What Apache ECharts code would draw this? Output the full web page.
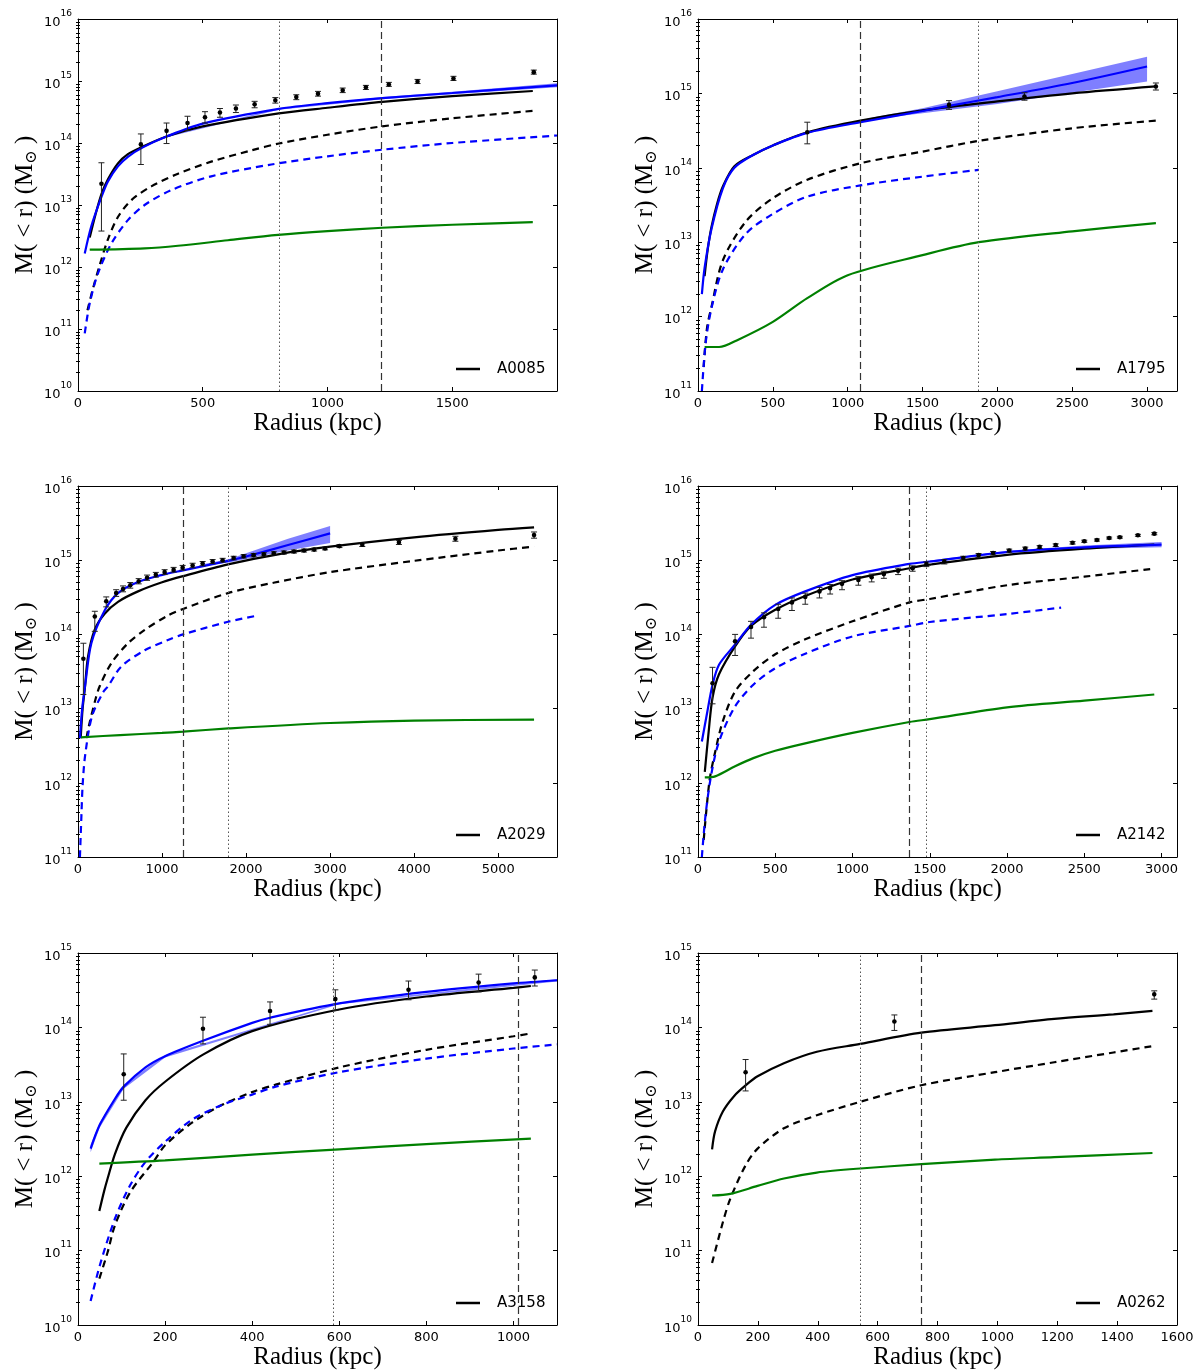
<!DOCTYPE html>
<html><head><meta charset="utf-8">
<script src="https://cdn.jsdelivr.net/npm/echarts@6/dist/echarts.min.js"></script>
<style>html,body{margin:0;padding:0;background:#fff}#c{width:1200px;height:1372px}</style>
</head><body><div id="c"></div>
<script>
// ---------------- DATA ----------------
const clusterNames = ['A0085', 'A1795', 'A2029', 'A2142', 'A3158', 'A0262'];
const xMaxes = [1920, 3200, 5700, 3100, 1100, 1600];
const yMins = [1e10, 1e11, 1e11, 1e11, 1e10, 1e10];
const yMaxes = [1e16, 1e16, 1e16, 1e16, 1e15, 1e15];
const xTickValues = [
  [0, 500, 1000, 1500],
  [0, 500, 1000, 1500, 2000, 2500, 3000],
  [0, 1000, 2000, 3000, 4000, 5000],
  [0, 500, 1000, 1500, 2000, 2500, 3000],
  [0, 200, 400, 600, 800, 1000],
  [0, 200, 400, 600, 800, 1000, 1200, 1400, 1600]
];
const yTickValuesTall = [1e10, 1e11, 1e12, 1e13, 1e14, 1e15, 1e16];
const yTickValuesShort = [1e10, 1e11, 1e12, 1e13, 1e14, 1e15];

// A0085
const A0085_total = [[47,3e12],[70,7e12],[94,1.5e13],[120,2.6e13],[160,4.7e13],[200,6.6e13],[253,8.5e13],[355,1.27e14],[500,1.85e14],[805,3.0e14],[1000,3.7e14],[1220,4.6e14],[1500,5.7e14],[1823,6.9e14]];
const A0085_fit = [[27,1.65e12],[53,4.5e12],[94,1.35e13],[120,2.4e13],[160,4.2e13],[200,6e13],[260,8.5e13],[355,1.27e14],[500,2.05e14],[805,3.55e14],[1000,4.4e14],[1220,5.3e14],[1500,6.4e14],[1920,8.5e14]];
const A0085_fitBand = [[355,1.24e14,1.3e14],[805,3.45e14,3.65e14],[1220,5.1e14,5.5e14],[1500,6.1e14,6.7e14],[1920,7.9e14,9.2e14]];
const A0085_gasTotal = [[38,2e11],[60,4.5e11],[87,1.07e12],[120,2.8e12],[160,6.4e12],[214,1.2e13],[294,2e13],[401,3.2e13],[534,5e13],[695,7.6e13],[805,9.8e13],[1000,1.36e14],[1217,1.85e14],[1500,2.5e14],[1823,3.3e14]];
const A0085_gasFit = [[27,8.5e10],[47,2.6e11],[80,7.9e11],[134,2.4e12],[200,5.7e12],[267,1e13],[374,1.74e13],[534,2.9e13],[775,4.5e13],[1000,6.1e13],[1220,7.8e13],[1500,1e14],[1920,1.32e14]];
const A0085_stars = [[47,1.9e12],[267,2e12],[401,2.2e12],[601,2.7e12],[802,3.3e12],[1000,3.8e12],[1220,4.3e12],[1500,4.8e12],[1823,5.3e12]];
const A0085_points = [[94,2.2e13,3.8e12,4.8e13],[252,9.5e13,4.5e13,1.4e14],[355,1.57e14,9.8e13,2.1e14],[439,2.1e14,1.6e14,2.7e14],[509,2.6e14,2.1e14,3.2e14],[569,3.1e14,2.6e14,3.6e14],[633,3.6e14,3.1e14,4.1e14],[708,4.2e14,3.7e14,4.7e14],[791,4.9e14,4.4e14,5.4e14],[875,5.5e14,5.0e14,6.0e14],[962,6.2e14,5.7e14,6.8e14],[1061,7.1e14,6.5e14,7.7e14],[1154,7.9e14,7.3e14,8.5e14],[1246,8.8e14,8.2e14,9.5e14],[1361,9.8e14,9.1e14,1.06e15],[1505,1.1e15,1.02e15,1.19e15],[1827,1.39e15,1.29e15,1.5e15]];
const A0085_radii = [805, 1217]; // dotted, dashed

// A1795
const A1795_total = [[44,3.5e12],[65,8e12],[90,1.6e13],[128,3.3e13],[166,5.6e13],[243,1.05e14],[371,1.5e14],[500,2e14],[730,3e14],[1085,4.3e14],[1500,5.9e14],[2000,7.8e14],[2500,1e15],[3059,1.24e15]];
const A1795_fit = [[26,2e12],[44,4.5e12],[90,1.5e13],[166,5.3e13],[243,1e14],[371,1.5e14],[500,2e14],[730,2.95e14],[1085,4.1e14],[1500,5.8e14],[1677,6.8e14],[2000,8.9e14],[2500,1.38e15],[3000,2.3e15]];
const A1795_fitBand = [[1000,3.8e14,4e14],[1200,4.55e14,4.9e14],[1500,5.4e14,6.3e14],[2000,7.2e14,1.07e15],[2500,1.02e15,1.82e15],[3000,1.45e15,3.1e15]];
const A1795_gasTotal = [[38,2.1e11],[60,7e11],[90,1.35e12],[166,5.7e12],[320,1.9e13],[500,3.9e13],[730,6.9e13],[1085,1.15e14],[1500,1.65e14],[1876,2.3e14],[2500,3.4e14],[3059,4.3e14]];
const A1795_gasFit = [[26,1e11],[51,4.4e11],[90,1.3e12],[166,4.3e12],[320,1.3e13],[500,2.4e13],[730,4.1e13],[1085,5.8e13],[1500,7.6e13],[1876,9.4e13]];
const A1795_stars = [[44,3.9e11],[141,3.9e11],[269,4.9e11],[500,8.5e11],[730,1.77e12],[1000,3.6e12],[1500,6.7e12],[1876,1e13],[2500,1.4e13],[3059,1.8e13]];
const A1795_points = [[730,3e14,2.1e14,4.1e14],[1677,7e14,6.1e14,8e14],[2181,9.1e14,8.1e14,1.02e15],[3059,1.24e15,1.11e15,1.38e15]];
const A1795_radii = [1872, 1083];

// A2029
const A2029_total = [[32,4e12],[55,1e13],[80,1.8e13],[119,5e13],[198,1.15e14],[317,1.9e14],[476,2.75e14],[714,3.8e14],[992,5.0e14],[1250,6.1e14],[1785,8.8e14],[2380,1.2e15],[3000,1.52e15],[4000,2.03e15],[5000,2.56e15],[5427,2.77e15]];
const A2029_fit = [[23,4e12],[50,1e13],[86,2.1e13],[159,7.6e13],[317,2.1e14],[476,3.6e14],[714,5.1e14],[992,6.3e14],[1250,7.3e14],[1785,9.8e14],[2000,1.12e15],[2500,1.6e15],[3000,2.3e15]];
const A2029_fitBand = [[1500,8.4e14,8.9e14],[1800,9.3e14,1.04e15],[2000,1.04e15,1.24e15],[2500,1.35e15,1.95e15],[3000,1.7e15,2.9e15]];
const A2029_gasTotal = [[100,4e12],[132,6e12],[213,1.4e13],[258,2e13],[397,4.1e13],[595,7.6e13],[794,1.15e14],[1071,1.8e14],[1250,2.2e14],[1785,3.6e14],[2340,5.0e14],[3000,6.9e14],[4000,9.8e14],[5000,1.35e15],[5427,1.53e15]];
const A2029_gasFit = [[23,1e11],[41,3.7e11],[55,9.3e11],[86,2.4e12],[168,8e12],[304,1.7e13],[357,2e13],[516,3.7e13],[794,6.1e13],[1071,8.4e13],[1250,1e14],[1785,1.48e14],[2142,1.8e14]];
const A2029_stars = [[32,4.1e12],[500,4.4e12],[1000,4.7e12],[1250,4.9e12],[1790,5.4e12],[3000,6.4e12],[4000,6.9e12],[5427,7.1e12]];
const A2029_points = [[64,4.7e13,1.55e13,7.6e13],[200,1.74e14,1.1e14,2.05e14],[336,2.8e14,2.35e14,3.2e14],[454,3.6e14,3.25e14,4.0e14],[536,4.1e14,3.75e14,4.5e14],[622,4.6e14,4.2e14,5.0e14],[722,5.2e14,4.8e14,5.65e14],[822,5.8e14,5.35e14,6.3e14],[926,6.35e14,5.9e14,6.85e14],[1031,6.9e14,6.4e14,7.45e14],[1138,7.4e14,6.9e14,8.0e14],[1245,7.9e14,7.35e14,8.5e14],[1364,8.5e14,7.9e14,9.1e14],[1483,9.0e14,8.4e14,9.6e14],[1602,9.6e14,9.0e14,1.02e15],[1721,1.0e15,9.4e14,1.06e15],[1852,1.07e15,1.01e15,1.13e15],[1971,1.13e15,1.07e15,1.19e15],[2090,1.17e15,1.11e15,1.23e15],[2212,1.2e15,1.14e15,1.26e15],[2330,1.24e15,1.18e15,1.3e15],[2450,1.27e15,1.21e15,1.33e15],[2570,1.31e15,1.25e15,1.37e15],[2690,1.35e15,1.29e15,1.41e15],[2810,1.39e15,1.33e15,1.45e15],[2940,1.44e15,1.38e15,1.5e15],[3111,1.55e15,1.48e15,1.62e15],[3383,1.62e15,1.53e15,1.71e15],[3819,1.74e15,1.63e15,1.85e15],[4491,1.95e15,1.8e15,2.1e15],[5427,2.18e15,1.98e15,2.4e15]];
const A2029_radii = [1790, 1250];

// A2142
const A2142_total = [[44,1.4e12],[69,4.9e12],[94,1.4e13],[136,2.9e13],[240,6.9e13],[343,1.3e14],[500,2.15e14],[694,3.3e14],[1000,5.5e14],[1369,7.8e14],[1500,8.7e14],[2000,1.18e15],[2500,1.43e15],[2953,1.62e15]];
const A2142_fit = [[25,3.6e12],[60,9e12],[94,2.1e13],[136,3.9e13],[240,7.3e13],[343,1.35e14],[500,2.5e14],[694,3.8e14],[1000,6.3e14],[1369,8.9e14],[1500,9.6e14],[2000,1.29e15],[2500,1.49e15],[3000,1.62e15]];
const A2142_fitBand = [[1500,9.3e14,9.9e14],[2000,1.24e15,1.34e15],[2500,1.42e15,1.58e15],[3000,1.5e15,1.76e15]];
const A2142_gasTotal = [[37,1.7e11],[74,1.05e12],[111,2.6e12],[160,6.7e12],[240,1.7e13],[358,3.2e13],[500,5.4e13],[694,8.6e13],[1000,1.5e14],[1369,2.7e14],[1500,3.0e14],[2000,4.6e14],[2500,6.0e14],[2953,7.7e14]];
const A2142_gasFit = [[25,1e11],[49,3.7e11],[86,1.3e12],[136,3.6e12],[240,1.07e13],[358,2.1e13],[500,3.5e13],[694,5.5e13],[1000,9.4e13],[1369,1.3e14],[1500,1.47e14],[2000,1.88e14],[2350,2.3e14]];
const A2142_stars = [[44,1.18e12],[111,1.22e12],[240,1.67e12],[358,2.15e12],[500,2.7e12],[694,3.4e12],[1000,4.7e12],[1369,6.6e12],[1500,7.2e12],[2000,1.04e13],[2500,1.28e13],[2953,1.55e13]];
const A2142_points = [[94,2.2e13,1.16e13,3.6e13],[240,8.1e13,5.2e13,1.0e14],[343,1.26e14,8.9e13,1.5e14],[427,1.7e14,1.25e14,1.95e14],[519,2.2e14,1.65e14,2.55e14],[608,2.7e14,2.1e14,3.1e14],[694,3.2e14,2.55e14,3.6e14],[786,3.8e14,3.1e14,4.3e14],[855,4.2e14,3.5e14,4.7e14],[932,4.8e14,4.0e14,5.3e14],[1038,5.4e14,4.6e14,6.0e14],[1124,5.9e14,5.1e14,6.5e14],[1203,6.5e14,5.7e14,7.1e14],[1295,7.2e14,6.4e14,7.8e14],[1389,7.8e14,7.1e14,8.4e14],[1478,8.9e14,8.2e14,9.5e14],[1594,9.6e14,8.9e14,1.02e15],[1717,1.07e15,1.0e15,1.13e15],[1816,1.17e15,1.09e15,1.23e15],[1910,1.25e15,1.18e15,1.31e15],[2014,1.35e15,1.28e15,1.41e15],[2118,1.44e15,1.37e15,1.5e15],[2211,1.51e15,1.44e15,1.57e15],[2315,1.6e15,1.53e15,1.66e15],[2424,1.72e15,1.65e15,1.78e15],[2500,1.8e15,1.74e15,1.86e15],[2582,1.87e15,1.81e15,1.93e15],[2661,1.99e15,1.93e15,2.05e15],[2730,2.04e15,1.98e15,2.1e15],[2847,2.17e15,2.1e15,2.23e15],[2953,2.28e15,2.2e15,2.35e15]];
const A2142_radii = [1478, 1369];

// A3158
const A3158_total = [[49,3.4e11],[60,6.3e11],[68,9.3e11],[85,2e12],[111,4.5e12],[155,1.05e13],[200,1.86e13],[287,4.3e13],[400,8.9e13],[600,1.74e14],[800,2.6e14],[1000,3.4e14],[1040,3.6e14]];
const A3158_fit = [[29,2.35e12],[50,4.9e12],[85,1.1e13],[105,1.6e13],[155,2.9e13],[200,4.1e13],[287,6.6e13],[400,1.15e14],[441,1.35e14],[600,2.1e14],[800,3e14],[1000,3.9e14],[1100,4.3e14]];
const A3158_fitBand = [[29,2.1e12,2.65e12],[50,4.5e12,5.3e12],[105,1.5e13,1.7e13],[200,3.95e13,4.25e13],[600,2.05e14,2.15e14],[1100,4.15e14,4.45e14]];
const A3158_gasTotal = [[49,4.2e10],[68,9.5e10],[85,2.2e11],[120,6.1e11],[173,1.56e12],[200,2.6e12],[261,5.2e12],[331,9.1e12],[400,1.35e13],[454,1.7e13],[600,2.9e13],[800,5e13],[1000,7.6e13],[1040,8.3e13]];
const A3158_gasFit = [[29,2.1e10],[50,6.3e10],[85,2.7e11],[120,7.6e11],[155,1.56e12],[200,2.9e12],[261,5.7e12],[331,9.1e12],[400,1.25e13],[454,1.6e13],[600,2.5e13],[800,3.8e13],[1000,5.2e13],[1100,5.9e13]];
const A3158_stars = [[49,1.48e12],[200,1.63e12],[400,1.95e12],[600,2.3e12],[800,2.7e12],[1040,3.2e12]];
const A3158_points = [[105,2.35e13,1.05e13,4.4e13],[287,9.6e13,6e13,1.37e14],[441,1.66e14,1.1e14,2.2e14],[591,2.4e14,1.7e14,3.2e14],[759,3.2e14,2.35e14,4.2e14],[920,4.0e14,3.0e14,5.2e14],[1049,4.7e14,3.6e14,5.9e14]];
const A3158_radii = [586, 1012];

// A0262
const A0262_total = [[47,2.3e12],[57,4e12],[83,7.4e12],[121,1.2e13],[159,1.66e13],[199,2.2e13],[287,3.3e13],[397,4.7e13],[542,6e13],[746,8.5e13],[992,1.07e14],[1190,1.3e14],[1388,1.5e14],[1518,1.67e14]];
const A0262_gasTotal = [[47,6.8e10],[83,2.4e11],[108,5e11],[159,1.4e12],[199,2.35e12],[287,4.4e12],[397,6.6e12],[542,1e13],[746,1.67e13],[992,2.5e13],[1190,3.4e13],[1388,4.6e13],[1518,5.6e13]];
const A0262_stars = [[47,5.5e11],[108,5.8e11],[199,7.4e11],[287,9.3e11],[397,1.12e12],[542,1.27e12],[746,1.45e12],[992,1.67e12],[1190,1.8e12],[1518,2.05e12]];
const A0262_points = [[159,2.5e13,1.4e13,3.7e13],[656,1.2e14,9.1e13,1.47e14],[1524,2.78e14,2.4e14,3.1e14]];
const A0262_radii = [542, 747];

// ---------------- PANELS ----------------
const panels = [
  {total:A0085_total, fit:A0085_fit, band:A0085_fitBand, gasTotal:A0085_gasTotal, gasFit:A0085_gasFit, stars:A0085_stars, points:A0085_points, radii:A0085_radii},
  {total:A1795_total, fit:A1795_fit, band:A1795_fitBand, gasTotal:A1795_gasTotal, gasFit:A1795_gasFit, stars:A1795_stars, points:A1795_points, radii:A1795_radii},
  {total:A2029_total, fit:A2029_fit, band:A2029_fitBand, gasTotal:A2029_gasTotal, gasFit:A2029_gasFit, stars:A2029_stars, points:A2029_points, radii:A2029_radii},
  {total:A2142_total, fit:A2142_fit, band:A2142_fitBand, gasTotal:A2142_gasTotal, gasFit:A2142_gasFit, stars:A2142_stars, points:A2142_points, radii:A2142_radii},
  {total:A3158_total, fit:A3158_fit, band:A3158_fitBand, gasTotal:A3158_gasTotal, gasFit:A3158_gasFit, stars:A3158_stars, points:A3158_points, radii:A3158_radii},
  {total:A0262_total, fit:null, band:null, gasTotal:A0262_gasTotal, gasFit:null, stars:A0262_stars, points:A0262_points, radii:A0262_radii}
];

// layout (pixels)
const gridBoxes = [
  {left:78, top:19, height:372},
  {left:698, top:19, height:372},
  {left:78, top:486, height:371},
  {left:698, top:486, height:371},
  {left:78, top:953, height:372},
  {left:698, top:953, height:372}
];
const PLOT_W = 479;

function minorTicksFor(majors){
  const out = [];
  for (let i = 0; i < majors.length - 1; i++) for (let k = 2; k <= 9; k++) out.push(majors[i] * k);
  return out;
}

const BLUE = '#0000ff', GREEN = '#008000', BLACK = '#000000';
const grids = [], xAxes = [], yAxes = [], series = [], legends = [];

panels.forEach((p, i) => {
  const g = gridBoxes[i];
  grids.push({left:g.left, top:g.top, width:PLOT_W, height:g.height, containLabel:false});
  const xt = xTickValues[i];
  const lineSt = {show:true, onZero:false, lineStyle:{color:'#000', width:1}};
  xAxes.push({type:'value', gridIndex:i, position:'bottom', min:0, max:xMaxes[i],
    splitLine:{show:false}, axisLine:lineSt,
    axisTick:{show:true, inside:true, length:4, customValues:xt, lineStyle:{color:'#000'}},
    axisLabel:{customValues:xt, margin:6, fontFamily:'DejaVu Sans', fontSize:13, color:'#000',
      formatter:v => (xt.indexOf(v) >= 0 ? String(v) : '')},
    name:'Radius (kpc)', nameLocation:'middle', nameGap:20,
    nameTextStyle:{fontFamily:'Liberation Serif', fontSize:25, color:'#000'}});
  xAxes.push({type:'value', gridIndex:i, position:'top', min:0, max:xMaxes[i],
    splitLine:{show:false}, axisLine:lineSt,
    axisTick:{show:true, inside:true, length:4, customValues:xt, lineStyle:{color:'#000'}},
    axisLabel:{show:false}});

  const yMax = yMaxes[i];
  const decades = (yMax === 1e16 ? yTickValuesTall : yTickValuesShort).filter(v => v >= yMins[i] && v <= yMax);
  // keep end ticks just inside the axis extent so float rounding cannot drop them
  const majors = decades.map(v => (v === yMax ? v * 0.9999999 : (v === yMins[i] ? v * 1.0000001 : v)));
  const minors = minorTicksFor(decades);
  const yb = {type:'log', logBase:10, gridIndex:i, min:yMins[i], max:yMax, splitLine:{show:false}};
  yAxes.push(Object.assign({}, yb, {position:'left', axisLine:lineSt,
    axisTick:{show:true, inside:true, length:4, customValues:majors, lineStyle:{color:'#000'}},
    axisLabel:{customValues:majors, margin:6, color:'#000',
      formatter:v => '{b|10}{s|' + Math.round(Math.log10(v)) + '}',
      rich:{b:{fontFamily:'DejaVu Sans', fontSize:13, lineHeight:20, verticalAlign:'bottom', color:'#000'},
            s:{fontFamily:'DejaVu Sans', fontSize:9, lineHeight:9, verticalAlign:'top', color:'#000'}}},
    name:'M( < r) (M{sub|⊙} )', nameLocation:'middle', nameGap:38, nameRotate:90,
    nameTextStyle:{fontFamily:'Liberation Serif', fontSize:25, color:'#000', lineHeight:30,
      rich:{sub:{fontFamily:'DejaVu Serif', fontSize:16, lineHeight:30, verticalAlign:'bottom', padding:[10,0,0,0], color:'#000'}}}}));
  yAxes.push(Object.assign({}, yb, {position:'left', axisLine:{show:false},
    axisTick:{show:true, inside:true, length:2, customValues:minors, lineStyle:{color:'#000'}},
    axisLabel:{show:false}}));
  yAxes.push(Object.assign({}, yb, {position:'right', axisLine:lineSt,
    axisTick:{show:true, inside:true, length:4, customValues:majors, lineStyle:{color:'#000'}},
    axisLabel:{show:false}}));
  yAxes.push(Object.assign({}, yb, {position:'right', axisLine:{show:false},
    axisTick:{show:true, inside:true, length:2, customValues:minors, lineStyle:{color:'#000'}},
    axisLabel:{show:false}}));

  const xi = 2 * i, yi = 4 * i;
  const mkLine = (name, data, color, dashed, z) => ({
    type:'line', name, data, xAxisIndex:xi, yAxisIndex:yi, symbol:'none', showSymbol:false,
    smooth:0.3, color, itemStyle:{color},
    lineStyle:{color, width:2.2, type: dashed ? [7, 5] : 'solid'}, z, silent:true, animation:false
  });

  if (p.band) {
    const band = p.band;
    series.push({type:'custom', name:clusterNames[i] + ' band', xAxisIndex:xi, yAxisIndex:yi, data:band,
      encode:{x:0, y:[1, 2]}, silent:true, animation:false, z:2,
      renderItem:(params, api) => {
        if (params.dataIndex !== 0) return null;
        const up = band.map(b => api.coord([b[0], b[2]]));
        const dn = band.slice().reverse().map(b => api.coord([b[0], b[1]]));
        return {type:'polygon', shape:{points:up.concat(dn)}, style:{fill:'rgba(0,0,255,0.5)', stroke:null}};
      }});
  }
  series.push(mkLine(clusterNames[i], p.total, BLACK, false, 3));
  if (p.fit) series.push(mkLine(clusterNames[i] + ' fit', p.fit, BLUE, false, 4));
  series.push(mkLine(clusterNames[i] + ' gas', p.gasTotal, BLACK, true, 3));
  if (p.gasFit) series.push(mkLine(clusterNames[i] + ' gas fit', p.gasFit, BLUE, true, 3));
  const st = mkLine(clusterNames[i] + ' stars', p.stars, GREEN, false, 3);
  st.markLine = {silent:true, symbol:['none', 'none'], label:{show:false}, animation:false,
    data:[
      {xAxis:p.radii[0], lineStyle:{type:[1.5, 2.5], color:'#555', width:1}},
      {xAxis:p.radii[1], lineStyle:{type:[7, 4], color:'#333', width:1.2}}
    ]};
  series.push(st);
  series.push({type:'custom', name:clusterNames[i] + ' data', xAxisIndex:xi, yAxisIndex:yi, data:p.points,
    encode:{x:0, y:[1, 2, 3]}, silent:true, animation:false, z:6,
    renderItem:(params, api) => {
      const x = api.value(0), y = api.value(1), lo = api.value(2), hi = api.value(3);
      const a = api.coord([x, lo]), b = api.coord([x, hi]), c = api.coord([x, y]);
      const cw = 3, ls = {stroke:'#222', lineWidth:1};
      return {type:'group', children:[
        {type:'line', shape:{x1:a[0], y1:a[1], x2:b[0], y2:b[1]}, style:ls},
        {type:'line', shape:{x1:a[0] - cw, y1:a[1], x2:a[0] + cw, y2:a[1]}, style:ls},
        {type:'line', shape:{x1:b[0] - cw, y1:b[1], x2:b[0] + cw, y2:b[1]}, style:ls},
        {type:'circle', shape:{cx:c[0], cy:c[1], r:2.3}, style:{fill:'#000'}}
      ]};
    }});

  legends.push({show:true, data:[clusterNames[i]], left:g.left + 378, top:g.top + g.height - 30,
    orient:'horizontal', padding:0, itemGap:0, icon:'rect', itemWidth:24, itemHeight:2.5,
    itemStyle:{color:'#000', borderWidth:0}, selectedMode:false,
    textStyle:{fontFamily:'DejaVu Sans', fontSize:15, color:'#000', padding:[0, 0, 0, 12], lineHeight:16}});
});

const chart = echarts.init(document.getElementById('c'), null, {renderer:'canvas'});
chart.setOption({animation:false, backgroundColor:'#fff', grid:grids, xAxis:xAxes, yAxis:yAxes, legend:legends, series});
</script></body></html>
